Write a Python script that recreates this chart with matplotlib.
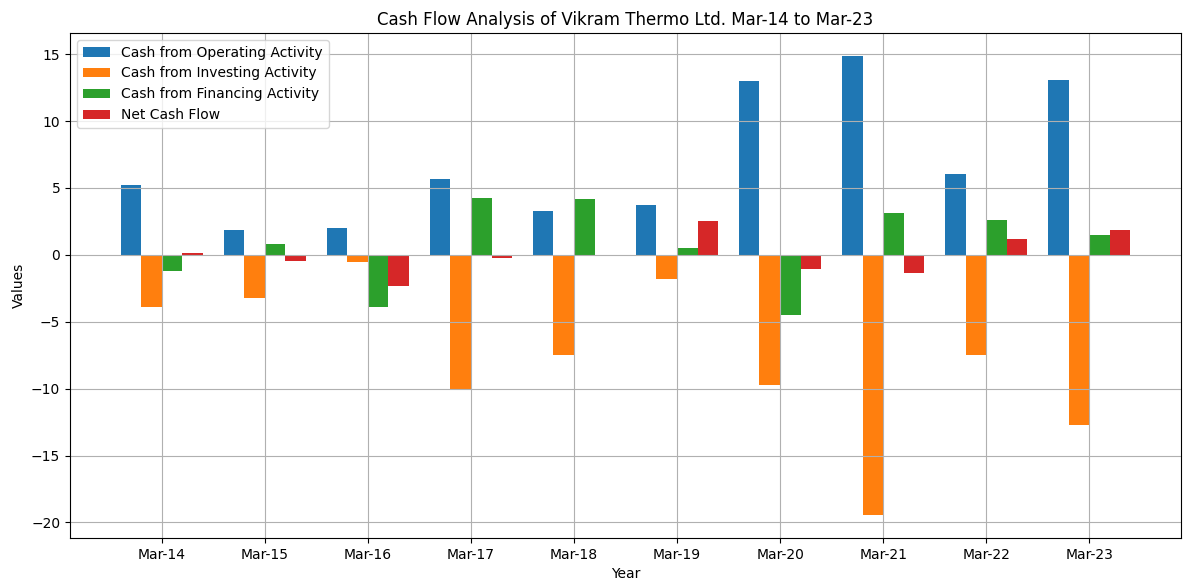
import matplotlib
matplotlib.use("Agg")
import matplotlib.pyplot as plt
import numpy as np

years = ["Mar-14", "Mar-15", "Mar-16", "Mar-17", "Mar-18", "Mar-19", "Mar-20", "Mar-21", "Mar-22", "Mar-23"]
operating = [5.25, 1.89, 2.04, 5.69, 3.31, 3.75, 13.0, 14.87, 6.07, 13.07]
investing = [-3.86, -3.26, -0.57, -10.13, -7.51, -1.84, -9.72, -19.45, -7.48, -12.7]
financing = [-1.17, 0.84, -3.86, 4.27, 4.2, 0.54, -4.49, 3.16, 2.63, 1.51]
net_flow = [0.17, -0.49, -2.36, -0.2, 0.0, 2.54, -1.09, -1.37, 1.22, 1.88]

labels = ["Cash from Operating Activity", "Cash from Investing Activity",
          "Cash from Financing Activity", "Net Cash Flow"]

fig, ax = plt.subplots(figsize=(11.91, 5.82), dpi=100)
x = np.arange(len(years))
w = 0.2
for i, (vals, lab) in enumerate(zip([operating, investing, financing, net_flow], labels)):
    ax.bar(x + (i - 1.5) * w, vals, w, label=lab)

ax.set_xticks(x)
ax.set_xticklabels(years)
ax.set_xlabel("Year")
ax.set_ylabel("Values")
ax.set_title("Cash Flow Analysis of Vikram Thermo Ltd. Mar-14 to Mar-23")
ax.grid(True)
ax.legend(loc="upper left")
fig.subplots_adjust(left=70/1191, right=1181/1191, top=1-33/582, bottom=1-538/582)
fig.savefig("out.png", dpi=100)
